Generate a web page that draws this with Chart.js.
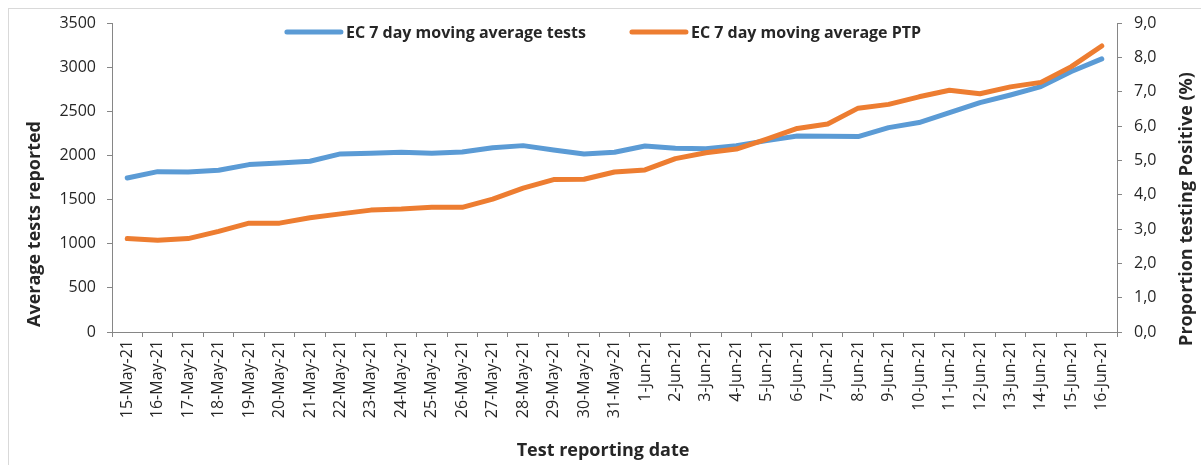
<!DOCTYPE html>
<html>
<head>
<meta charset="utf-8">
<script src="https://cdn.jsdelivr.net/npm/chart.js@4.4.1/dist/chart.umd.min.js"></script>
<style>
  html, body { margin: 0; padding: 0; background: #fff; }
  .frame {
    position: absolute; left: 8px; top: 8px; width: 1300px; height: 600px;
    border: 1px solid #d9d9d9; box-sizing: border-box;
  }
  .wrap { position: absolute; left: 0; top: 0; width: 1201px; height: 465px; }
</style>
</head>
<body>
<div class="frame"></div>
<div class="wrap"><canvas id="chart" width="1201" height="465"></canvas></div>
<script>
const dates = [
  "15-May-21", "16-May-21", "17-May-21", "18-May-21", "19-May-21", "20-May-21",
  "21-May-21", "22-May-21", "23-May-21", "24-May-21", "25-May-21", "26-May-21",
  "27-May-21", "28-May-21", "29-May-21", "30-May-21", "31-May-21", "1-Jun-21",
  "2-Jun-21", "3-Jun-21", "4-Jun-21", "5-Jun-21", "6-Jun-21", "7-Jun-21",
  "8-Jun-21", "9-Jun-21", "10-Jun-21", "11-Jun-21", "12-Jun-21", "13-Jun-21",
  "14-Jun-21", "15-Jun-21", "16-Jun-21"
];

// 7 day moving average of tests (left axis)
const avgTests = [
  1745, 1816, 1813, 1832, 1896, 1915, 1934, 2017, 2025, 2036, 2025,
  2038, 2088, 2111, 2062, 2017, 2036, 2107, 2081, 2077, 2111, 2168,
  2221, 2218, 2213, 2315, 2372, 2485, 2598, 2685, 2780, 2950, 3093
];

// 7 day moving average proportion testing positive, % (right axis)
const avgPTP = [
  2.72, 2.67, 2.72, 2.93, 3.17, 3.17, 3.33, 3.44, 3.55, 3.58, 3.63,
  3.63, 3.87, 4.19, 4.44, 4.45, 4.66, 4.72, 5.05, 5.22, 5.33, 5.62,
  5.93, 6.06, 6.52, 6.63, 6.85, 7.04, 6.94, 7.14, 7.27, 7.73, 8.33
];

const leftTitle = "Average tests reported";
const rightTitle = "Proportion testing Positive (%)";
const xTitle = "Test reporting date";

const AXIS_GREY = "#868686";
const TEXT = "#262626";
const FONT = "'Open Sans', sans-serif";

// legend + axis titles drawn by hand so they sit where Excel put them
const extras = {
  id: "extras",
  afterDraw(chart) {
    const ctx = chart.ctx;
    ctx.save();
    ctx.fillStyle = TEXT;
    ctx.textBaseline = "middle";

    // legend
    ctx.font = "bold 16px " + FONT;
    const lineLen = 54, gap = 5, itemGap = 46, legendY = 32, legendCenter = 604;
    const items = chart.data.datasets.map((ds) => ({
      ds, w: ctx.measureText(ds.label).width
    }));
    let total = 0;
    items.forEach((it, i) => {
      total += lineLen + gap + it.w + (i < items.length - 1 ? itemGap : 0);
    });
    let x = legendCenter - total / 2;
    items.forEach((it) => {
      ctx.strokeStyle = it.ds.borderColor;
      ctx.lineWidth = 5;
      ctx.lineCap = "round";
      ctx.beginPath();
      ctx.moveTo(x, legendY);
      ctx.lineTo(x + lineLen, legendY);
      ctx.stroke();
      x += lineLen + gap;
      ctx.textAlign = "left";
      ctx.fillText(it.ds.label, x, legendY + 1);
      x += it.w + itemGap;
    });

    // axis titles
    ctx.font = "bold 18px " + FONT;
    ctx.textAlign = "center";
    ctx.fillText(xTitle, 603, 451);

    ctx.save();
    ctx.translate(35, 224);
    ctx.rotate(-Math.PI / 2);
    ctx.fillText(leftTitle, 0, 0);
    ctx.restore();

    ctx.save();
    ctx.translate(1187, 209);
    ctx.rotate(-Math.PI / 2);
    ctx.fillText(rightTitle, 0, 0);
    ctx.restore();

    ctx.restore();
  }
};

new Chart(document.getElementById("chart"), {
  type: "line",
  data: {
    labels: dates,
    datasets: [
      {
        label: "EC 7 day moving average tests",
        data: avgTests,
        yAxisID: "y",
        borderColor: "#5B9BD5",
        backgroundColor: "#5B9BD5",
        borderWidth: 5,
        borderCapStyle: "round",
        borderJoinStyle: "round",
        pointRadius: 0,
        tension: 0,
        order: 2,
      },
      {
        label: "EC 7 day moving average PTP",
        data: avgPTP,
        yAxisID: "y1",
        borderColor: "#ED7D31",
        backgroundColor: "#ED7D31",
        borderWidth: 5,
        borderCapStyle: "round",
        borderJoinStyle: "round",
        pointRadius: 0,
        tension: 0,
        order: 1,
      },
    ],
  },
  options: {
    responsive: false,
    animation: false,
    layout: { padding: { top: 23, left: 0, right: 0, bottom: 0 } },
    plugins: {
      legend: { display: false },
      tooltip: { enabled: false },
    },
    scales: {
      x: {
        offset: true,
        grid: {
          offset: true,
          drawOnChartArea: false,
          color: AXIS_GREY,
          tickLength: 5,
        },
        border: { color: AXIS_GREY, width: 1 },
        ticks: {
          autoSkip: false,
          maxRotation: 90,
          minRotation: 90,
          padding: 3,
          color: TEXT,
          font: { size: 16, family: FONT },
        },
        afterFit(scale) {
          scale.height = 133;
        },
      },
      y: {
        position: "left",
        min: 0,
        max: 3500,
        grid: {
          drawOnChartArea: false,
          color: AXIS_GREY,
          tickLength: 5,
        },
        border: { color: AXIS_GREY, width: 1 },
        ticks: {
          stepSize: 500,
          padding: 11,
          color: TEXT,
          font: { size: 16, family: FONT },
          callback: (v) => String(v),
        },
        afterFit(scale) {
          scale.width = 112;
        },
      },
      y1: {
        position: "right",
        min: 0,
        max: 9,
        grid: {
          drawOnChartArea: false,
          color: AXIS_GREY,
          tickLength: 5,
        },
        border: { color: AXIS_GREY, width: 1 },
        ticks: {
          stepSize: 1,
          padding: 12,
          color: TEXT,
          font: { size: 16, family: FONT },
          callback: (v) => v.toFixed(1).replace(".", ","),
        },
        afterFit(scale) {
          scale.width = 1201 - 1117;
        },
      },
    },
  },
  plugins: [extras],
});
</script>
</body>
</html>
